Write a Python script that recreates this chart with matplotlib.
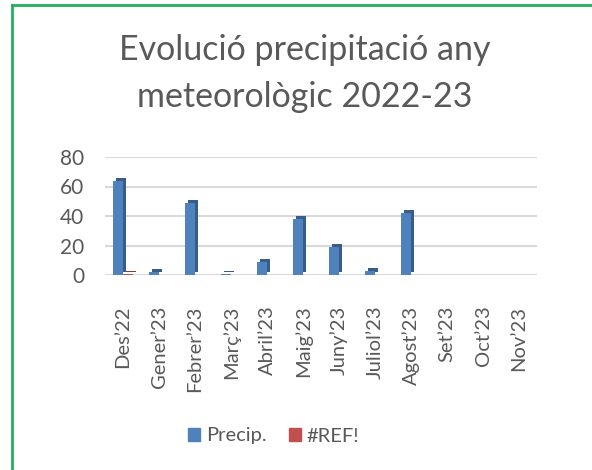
import matplotlib.pyplot as plt
import matplotlib.transforms as mtransforms
from matplotlib.patches import Patch
from matplotlib.lines import Line2D
import numpy as np

plt.rcParams['font.family'] = ['Lato', 'DejaVu Sans']

months = ['Des’22', 'Gener’23', 'Febrer’23', 'Març’23', 'Abril’23', 'Maig’23',
          'Juny’23', 'Juliol’23', 'Agost’23', 'Set’23', 'Oct’23', 'Nov’23']
precip = [64, 2, 49, 0.5, 9, 38, 19, 3, 42, 0, 0, 0]
ref = [1, 0, 0, 0, 0, 0, 0, 0, 0, 0, 0, 0]
yticks = [0, 20, 40, 60, 80]

txt = '#595959'
blue, blue_dark = '#4f81bd', '#385d8a'
red, red_dark = '#c0504d', '#8c3836'

fig = plt.figure(figsize=(5.92, 4.70), dpi=100)
ax = fig.add_axes([105 / 592, 1 - 275 / 470, 432 / 592, 118 / 470])

x = np.arange(len(months))
w = 0.28

# fake 3d depth: darker copy shifted right/up behind each bar
depth = mtransforms.ScaledTranslation(3 / 100, 3 / 100, fig.dpi_scale_trans)
for vals, off, c, cd in [(precip, -w / 2, blue, blue_dark), (ref, w / 2, red, red_dark)]:
    back = ax.bar(x + off, vals, w, color=cd, zorder=2, linewidth=0)
    for p in back.patches:
        p.set_transform(ax.transData + depth)
    ax.bar(x + off, vals, w, color=c, zorder=3, linewidth=0)

ax.set_xlim(-0.5, len(months) - 0.5)
ax.set_ylim(0, 80)
ax.set_yticks(yticks)
ax.set_yticklabels([str(v) for v in yticks], fontsize=15, color=txt)
ax.set_xticks(x)
ax.set_xticklabels(months, rotation=90, fontsize=14.5, color=txt)
ax.tick_params(length=0, pad=22)
ax.tick_params(axis='y', pad=15)
for s in ax.spines.values():
    s.set_visible(False)
for v in yticks:
    ax.axhline(v, color='#d9d9d9', lw=1.5, zorder=1)

fig.text(0.515, 1 - 50 / 470, 'Evolució precipitació any', ha='center', va='center',
         fontsize=24.5, color=txt)
fig.text(0.515, 1 - 97 / 470, 'meteorològic 2022-23', ha='center', va='center',
         fontsize=24.5, color=txt)

handles = [Patch(color=blue, label='Precip.'), Patch(color=red, label='#REF!')]
fig.legend(handles=handles, loc='center', bbox_to_anchor=(0.462, 1 - 436 / 470), ncol=2,
           frameon=False, fontsize=14.5, labelcolor=txt, handlelength=0.6, handleheight=0.6,
           columnspacing=1.1, handletextpad=0.3)

# green frame (left and top edges)
fig.add_artist(Line2D([12 / 592, 12 / 592], [0, 1 - 5 / 470], color='#1fb25a', lw=2,
                      transform=fig.transFigure))
fig.add_artist(Line2D([12 / 592, 1], [1 - 5 / 470, 1 - 5 / 470], color='#1fb25a', lw=2,
                      transform=fig.transFigure))

fig.savefig('out.png', dpi=100)
